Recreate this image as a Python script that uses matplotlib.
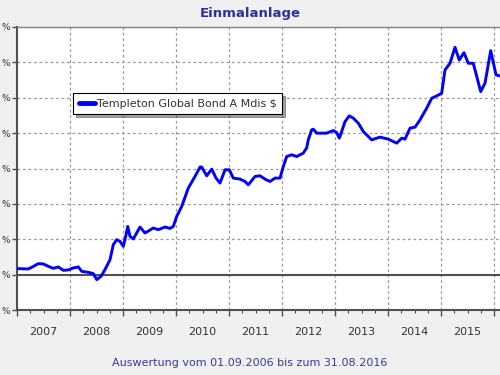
import matplotlib
matplotlib.use("Agg")
import matplotlib.pyplot as plt
import numpy as np

# ---- data (decimal year, performance in %) ----
dates = [2007.000, 2007.213, 2007.302, 2007.402, 2007.496, 2007.591, 2007.685, 2007.779,
         2007.874, 2007.968, 2008.062, 2008.157, 2008.221, 2008.345, 2008.440, 2008.504,
         2008.585, 2008.660, 2008.755, 2008.817, 2008.881, 2008.943, 2009.006, 2009.051,
         2009.089, 2009.132, 2009.194, 2009.321, 2009.415, 2009.572, 2009.666, 2009.792,
         2009.887, 2009.949, 2010.013, 2010.108, 2010.232, 2010.358, 2010.453, 2010.485,
         2010.579, 2010.674, 2010.755, 2010.830, 2010.925, 2011.006, 2011.081, 2011.208,
         2011.302, 2011.364, 2011.491, 2011.585, 2011.679, 2011.774, 2011.868, 2011.962,
         2012.025, 2012.089, 2012.183, 2012.277, 2012.402, 2012.466, 2012.496, 2012.560,
         2012.591, 2012.655, 2012.843, 2012.968, 2013.032, 2013.081, 2013.126, 2013.189,
         2013.270, 2013.345, 2013.440, 2013.534, 2013.692, 2013.849, 2014.006, 2014.164,
         2014.258, 2014.321, 2014.415, 2014.509, 2014.604, 2014.730, 2014.825, 2014.919,
         2015.013, 2015.075, 2015.170, 2015.264, 2015.345, 2015.434, 2015.515, 2015.609,
         2015.749, 2015.830, 2015.938, 2016.038, 2016.113]
values = [1.69, 1.61, 2.26, 3.10, 3.02, 2.34, 1.78, 2.17,
          1.21, 1.33, 1.89, 2.17, 0.93, 0.65, 0.28, -1.41,
          -0.48, 1.41, 4.23, 8.47, 9.88, 9.40, 7.99, 10.81,
          13.63, 10.81, 10.08, 13.46, 11.77, 13.18, 12.70, 13.46,
          13.07, 13.63, 16.45, 19.28, 24.47, 27.74, 30.40, 30.40,
          27.94, 29.83, 27.29, 25.88, 29.64, 29.64, 27.29, 27.01,
          26.33, 25.40, 27.74, 27.94, 27.01, 26.33, 27.29, 27.29,
          30.57, 33.39, 33.87, 33.39, 34.35, 35.85, 38.10, 40.93,
          41.12, 39.99, 39.99, 40.73, 40.16, 38.58, 40.45, 43.27,
          44.88, 44.23, 42.82, 40.45, 38.10, 38.87, 38.30, 37.17,
          38.58, 38.30, 41.41, 41.69, 43.75, 47.05, 49.87, 50.52,
          51.28, 57.86, 59.75, 64.27, 60.68, 62.74, 59.75, 59.75,
          51.74, 54.11, 63.31, 56.45, 56.17]

series_name = "Templeton Global Bond A Mdis $"
title = "Einmalanlage"
footer = "Auswertung vom 01.09.2006 bis zum 31.08.2016"
year_labels = ["2007", "2008", "2009", "2010", "2011", "2012", "2013", "2014", "2015"]
y_ticks = [-10, 0, 10, 20, 30, 40, 50, 60, 70]
y_labels = ["%"] * len(y_ticks)   # only the "%" of each label is visible in the reference

W, H = 500, 375
fig = plt.figure(figsize=(W / 100, H / 100), dpi=100, facecolor="#f0f0f0")

x0, xmax = 2007.0, 2016.67
px_per_year = 53.0
left_px, top_px, bottom_px = 17, 27, 310
right_px = left_px + px_per_year * (xmax - x0)
ax = fig.add_axes([left_px / W, (H - bottom_px) / H,
                   (right_px - left_px) / W, (bottom_px - top_px) / H])
ax.set_facecolor("white")
ax.set_xlim(x0, xmax)
ax.set_ylim(-10, 70)

grid_kw = dict(color="#9a9a9a", lw=0.9, ls=(0, (2.2, 2.2)), zorder=1)
for yv in y_ticks[2:-1]:
    ax.axhline(yv, **grid_kw)
for yr in range(2008, 2017):
    ax.axvline(yr, **grid_kw)
ax.axhline(0, color="#505050", lw=1.5, zorder=2)

ax.plot(dates, values, color="#0000ff", lw=2.1, zorder=3, label=series_name,
        solid_joinstyle="round", solid_capstyle="round")

# spines
for s in ["left", "bottom"]:
    ax.spines[s].set_color("#505050")
    ax.spines[s].set_linewidth(1.5)
ax.spines["top"].set_color("#808080")
ax.spines["top"].set_linewidth(1.0)
ax.spines["right"].set_visible(False)

# y ticks
ax.set_yticks(y_ticks)
ax.set_yticklabels(y_labels, fontsize=6.5, color="#333333")
ax.tick_params(axis="y", length=3.5, width=1, color="#505050", pad=1.5)

# x ticks: year boundaries (major), quarters (minor), labels centred
ax.set_xticks(np.arange(2007, 2017))
ax.set_xticklabels([])
ax.set_xticks(np.arange(2007, 2016.7, 0.25), minor=True)
ax.tick_params(axis="x", which="major", length=4, width=1, color="#505050")
ax.tick_params(axis="x", which="minor", length=2.5, width=0.8, color="#505050")
for i, lab in enumerate(year_labels):
    ax.text(2007.5 + i, -0.078, lab, transform=ax.get_xaxis_transform(),
            ha="center", va="center", fontsize=8, color="#333333")

fig.text(0.5, 1 - 13 / H, title, ha="center", va="center", fontsize=9.5,
         fontweight="bold", color="#2e2e9e")
fig.text(0.5, 1 - 363 / H, footer, ha="center", va="center", fontsize=8,
         color="#3a3a9a")

leg = ax.legend(loc="upper left", bbox_to_anchor=(73 / W, 1 - 93 / H),
                bbox_transform=fig.transFigure, frameon=True, fancybox=False,
                shadow=True, fontsize=8, handlelength=1.5, handletextpad=0.15,
                borderpad=0.5, borderaxespad=0)
leg.get_frame().set_edgecolor("black")
leg.get_frame().set_linewidth(0.8)
for line in leg.get_lines():
    line.set_linewidth(3.5)
for t in leg.get_texts():
    t.set_color("#333333")

fig.savefig("out.png", dpi=100, facecolor=fig.get_facecolor())
